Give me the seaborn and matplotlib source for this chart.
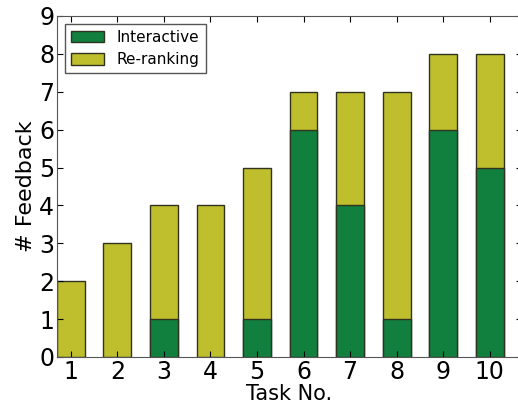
import matplotlib
matplotlib.use('Agg')
import matplotlib.pyplot as plt
import seaborn as sns
import pandas as pd
from matplotlib.patches import Patch

# data
tasks = ['1', '2', '3', '4', '5', '6', '7', '8', '9', '10']
interactive = [0, 0, 1, 0, 1, 6, 4, 1, 6, 5]
reranking = [2, 3, 3, 4, 4, 1, 3, 6, 2, 3]

green = '#11803f'
yellow = '#bfbf2e'
edge = '#2f3320'

df = pd.DataFrame({'task': tasks, 'interactive': interactive, 'reranking': reranking})
df['total'] = df['interactive'] + df['reranking']

fig = plt.figure(figsize=(5.18, 4.08), dpi=100)
ax = fig.add_axes([0.110, 0.125, 0.898, 0.836])

# stacked bars: full height in yellow, interactive part in green on top of it
sns.barplot(data=df, x='task', y='total', order=tasks, color=yellow, width=0.6,
            edgecolor=edge, linewidth=1, saturation=1, ax=ax)
sns.barplot(data=df[df['interactive'] > 0], x='task', y='interactive', order=tasks,
            color=green, width=0.6, edgecolor=edge, linewidth=1, saturation=1, ax=ax)

ax.set_xlim(-0.3, 9.7)
ax.set_ylim(0, 9)
ax.set_yticks(range(0, 10))
ax.tick_params(direction='in', top=True, right=True, labelsize=17, length=4, pad=2)
ax.set_xlabel('Task No.', fontsize=15, labelpad=0)
ax.set_ylabel('# Feedback', fontsize=16, labelpad=2)
for s in ax.spines.values():
    s.set_color('#555555')

handles = [Patch(facecolor=green, edgecolor=edge, label='Interactive'),
           Patch(facecolor=yellow, edgecolor=edge, label='Re-ranking')]
ax.legend(handles=handles, loc='upper left', fontsize=11, fancybox=False,
          edgecolor='#555555', framealpha=1, borderaxespad=0.5,
          handlelength=2.2, handleheight=0.8, labelspacing=0.5)

fig.savefig('out.png', dpi=100)
